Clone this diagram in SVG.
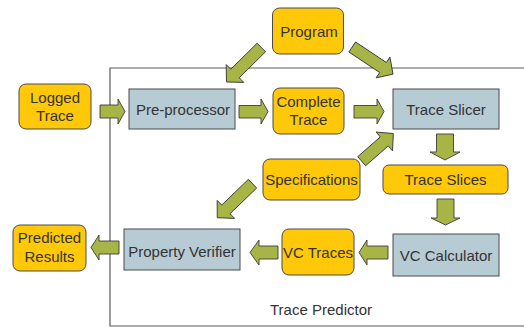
<svg xmlns="http://www.w3.org/2000/svg" width="524" height="329" viewBox="0 0 524 329">
  <defs>
    <style>
      .data { fill: #ffc809; stroke: #4a4a4a; stroke-width: 1; }
      .proc { fill: #b7cbd5; stroke: #4a4a4a; stroke-width: 1; }
      .arrow { fill: #a6b546; stroke: #3c3c3c; stroke-width: 0.9; stroke-linejoin: miter; }
      .frame { fill: none; stroke: #5a5a5a; stroke-width: 1.2; }
      text { font-family: "Liberation Sans", Arial, sans-serif; font-size: 15px; fill: #333333; text-anchor: middle; }
    </style>
    <!-- diagonal block arrow pointing along +x, length 49 -->
    <path id="diag" d="M0,-6 H37 V-12.5 L49,0 L37,12.5 V6 H0 Z"/>
    <path id="diag42" d="M0,-6 H30 V-12.5 L42,0 L30,12.5 V6 H0 Z"/>
  </defs>

  <!-- Trace Predictor boundary -->
  <g id="boundary">
    <path class="frame" d="M524,68 H110 V326 H524"/>
    <text x="321" y="315">Trace Predictor</text>
  </g>

  <!-- connectors -->
  <g id="connectors">
    <path class="arrow" d="M100,105 H118 V99 L125,111.5 L118,124 V118 H100 Z"/>
    <path class="arrow" d="M239,105.5 H261 V99 L268,111.5 L261,124 V118 H239 Z"/>
    <path class="arrow" d="M354,105.5 H377 V99 L384,111.5 L377,124 V118 H354 Z"/>
    <path class="arrow" d="M436.5,134 H453.5 V152 H460 L445,160 L430,152 H436.5 Z"/>
    <path class="arrow" d="M437,199 H454 V218 H460 L445.5,225 L431,218 H437 Z"/>
    <path class="arrow" d="M388,246 H367 V240 L359,252.5 L367,265 V259 H388 Z"/>
    <path class="arrow" d="M278,246 H259 V240 L250,252.5 L259,265 V259 H278 Z"/>
    <path class="arrow" d="M119,241 H99 V235 L91,247.5 L99,260 V254 H119 Z"/>
    <use class="arrow" href="#diag" transform="translate(261.3,47.5) rotate(135.3)"/>
    <use class="arrow" href="#diag" transform="translate(352.2,47) rotate(33.6)"/>
    <use class="arrow" href="#diag42" transform="translate(361.7,161.2) rotate(-41.2)"/>
    <use class="arrow" href="#diag" transform="translate(252.5,183.7) rotate(136)"/>
  </g>

  <g id="logged-trace">
    <rect class="data" x="19" y="84" width="72" height="45" rx="7"/>
    <text x="55" y="103">Logged</text>
    <text x="55" y="121">Trace</text>
  </g>

  <g id="program">
    <rect class="data" x="272.5" y="8" width="71" height="46" rx="7"/>
    <text x="309" y="37">Program</text>
  </g>

  <g id="pre-processor">
    <rect class="proc" x="129" y="89" width="106" height="40"/>
    <text x="183" y="115">Pre-processor</text>
  </g>

  <g id="complete-trace">
    <rect class="data" x="273" y="88" width="71" height="46" rx="7"/>
    <text x="308.5" y="107">Complete</text>
    <text x="308.5" y="125">Trace</text>
  </g>

  <g id="trace-slicer">
    <rect class="proc" x="393" y="89" width="106" height="40"/>
    <text x="446" y="115">Trace Slicer</text>
  </g>

  <g id="specifications">
    <rect class="data" x="263" y="159" width="97" height="41" rx="7"/>
    <text x="311.5" y="185">Specifications</text>
  </g>

  <g id="trace-slices">
    <rect class="data" x="383" y="165" width="125" height="29" rx="6"/>
    <text x="445.5" y="185">Trace Slices</text>
  </g>

  <g id="vc-calculator">
    <rect class="proc" x="393" y="234" width="106" height="42"/>
    <text x="446" y="261">VC Calculator</text>
  </g>

  <g id="vc-traces">
    <rect class="data" x="282" y="229" width="72" height="46" rx="7"/>
    <text x="318" y="258">VC Traces</text>
  </g>

  <g id="property-verifier">
    <rect class="proc" x="124" y="229" width="116" height="41"/>
    <text x="182" y="257">Property Verifier</text>
  </g>

  <g id="predicted-results">
    <rect class="data" x="13" y="225" width="73" height="46" rx="7"/>
    <text x="49.5" y="243">Predicted</text>
    <text x="49.5" y="262">Results</text>
  </g>
</svg>
